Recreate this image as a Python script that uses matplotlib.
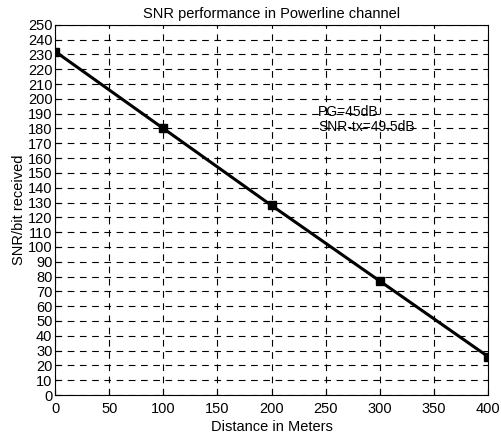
import matplotlib
matplotlib.use('Agg')
import matplotlib.pyplot as plt

# data
distance = [0, 100, 200, 300, 400]
snr_bit = [232, 180, 128, 77, 26]

x_ticks = list(range(0, 401, 50))
y_ticks = list(range(0, 251, 10))

plt.rcParams['font.family'] = ['Liberation Sans', 'DejaVu Sans']

fig = plt.figure(figsize=(5.02, 4.36), dpi=100)
ax = fig.add_axes([0.110, 0.094, 0.862, 0.849])

ax.plot(distance, snr_bit, color='black', linewidth=2.2, marker='s',
        markersize=5.5, markerfacecolor='black', zorder=3)

ax.set_xlim(0, 400)
ax.set_ylim(0, 250)
ax.set_xticks(x_ticks)
ax.set_yticks(y_ticks)
ax.tick_params(direction='in', labelsize=10.5, length=4, pad=2)
ax.tick_params(axis='x', pad=5)
ax.grid(True, color='black', linestyle=(0, (6, 5)), linewidth=0.8)

ax.text(243, 191, 'PG=45dB', fontsize=10, va='center', zorder=1)
ax.text(243, 181, 'SNR-tx=49.5dB', fontsize=10, va='center', zorder=1)

ax.set_title('SNR performance in Powerline channel', fontsize=10.5, pad=5)
ax.set_xlabel('Distance in Meters', fontsize=10.5, labelpad=3)
ax.set_ylabel('SNR/bit received', fontsize=10.5, labelpad=1)

fig.savefig('out.png', dpi=100)
